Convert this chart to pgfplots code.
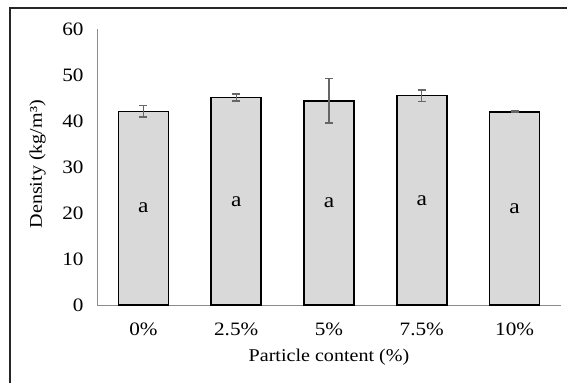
\documentclass[border=0pt]{standalone}
\usepackage{pgfplots}
\pgfplotsset{compat=1.18}
\usepackage{fontspec}
\setmainfont{Liberation Serif}
\newfontfamily\stretchfont[FakeStretch=1.12]{Liberation Serif}
\definecolor{barfill}{HTML}{D9D9D9}
\definecolor{errc}{HTML}{666666}
\definecolor{axc}{HTML}{8C8C8C}
\begin{document}
\begin{tikzpicture}[x=1bp,y=1bp]
\path[use as bounding box] (0,0) rectangle (567,-383);
\draw[line width=1.6bp, black!85] (10,-383) -- (10,-8) -- (567,-8);
\begin{axis}[
  at={(97bp,-305bp)}, anchor=south west,
  scale only axis, width=464bp, height=276bp,
  xmin=-0.5, xmax=4.5, ymin=0, ymax=60,
  axis x line*=bottom, axis y line*=left,
  axis line style={-, draw=axc, line width=0.9bp},
  major tick length=0pt,
  ytick={0,10,20,30,40,50,60},
  xtick={0,1,2,3,4},
  xticklabels={0\%,2.5\%,5\%,7.5\%,10\%},
  /pgf/number format/assume math mode=true,
  tick label style={font=\stretchfont\fontsize{19}{21}\selectfont},
  yticklabel style={xshift=-10bp},
  xticklabel style={yshift=-14bp},
  xlabel={Particle content (\%)},
  ylabel={Density (kg/m³)},
  label style={font=\stretchfont\fontsize{18}{21}\selectfont},
  xlabel style={anchor=center, at={(axis description cs:0.5,-0.19)}},
  ylabel style={anchor=center, at={(axis description cs:-0.128,0.51)}},
  ybar, bar width=50bp,
  clip=false,
]
\addplot[fill=barfill, draw=black, line width=1.5bp,
  error bars/.cd, y dir=both, y explicit,
  error bar style={draw=errc, line width=1.3bp},
  error mark options={draw=errc, line width=1.3bp, mark size=4bp, rotate=90}]
  coordinates {
  (0,42.1) +- (0,1.25)
  (1,45.1) +- (0,0.75)
  (2,44.4) +- (0,4.85)
  (3,45.5) +- (0,1.25)
  (4,42.0) +- (0,0.15)
};
\node[font=\stretchfont\fontsize{21}{22}\selectfont] at (axis cs:0,21.05) {a};
\node[font=\stretchfont\fontsize{21}{22}\selectfont] at (axis cs:1,22.55) {a};
\node[font=\stretchfont\fontsize{21}{22}\selectfont] at (axis cs:2,22.2) {a};
\node[font=\stretchfont\fontsize{21}{22}\selectfont] at (axis cs:3,22.75) {a};
\node[font=\stretchfont\fontsize{21}{22}\selectfont] at (axis cs:4,21.0) {a};
\end{axis}
\end{tikzpicture}
\end{document}
